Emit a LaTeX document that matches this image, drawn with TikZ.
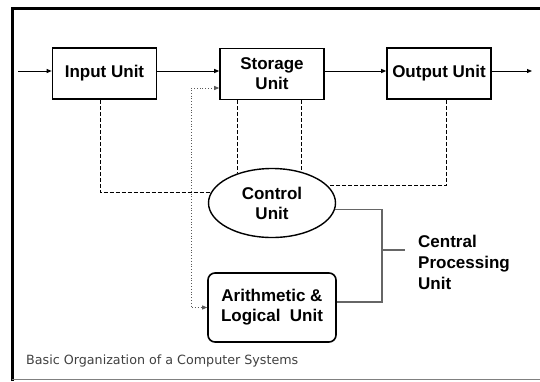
\documentclass[tikz,border=0pt]{standalone}
\usepackage{fontspec}
\setmainfont{Liberation Sans}
\newfontfamily\capfont{DejaVu Sans}
\usetikzlibrary{arrows.meta, shapes.geometric, positioning}

\tikzset{
  unitbox/.style={draw, line width=1.6pt, minimum width=104pt, minimum height=51pt,
    font=\bfseries\fontsize{17}{20}\selectfont, align=center, inner sep=2pt},
  flow/.style={line width=1pt, -{Triangle[length=5pt,width=4pt]}},
  dashline/.style={line width=0.8pt, dash pattern=on 4pt off 2pt},
  dotline/.style={line width=0.8pt, dotted, gray!70!black, {Triangle[length=5pt,width=4pt]}-{Triangle[length=5pt,width=4pt]}},
  cpuline/.style={line width=1.1pt, gray!80!black}
}

\begin{document}
\begin{tikzpicture}[x=1pt, y=-1pt]
\useasboundingbox (0,0) rectangle (540,381);
% Frame
\draw[line width=3pt] (12,381) -- (12,8) -- (540,8);
\draw[line width=1pt, gray] (12,379.5) -- (540,379.5);

% Units
\node[unitbox] (inp) at (104.5,73.5) {Input Unit};
\node[unitbox] (stor) at (272,74) {Storage\\Unit};
\node[unitbox] (outp) at (439,73.5) {Output Unit};
\node[unitbox, ellipse, line width=1.4pt, minimum width=127pt, minimum height=69pt] (ctrl) at (272,203) {Control\\Unit};
\node[unitbox, rounded corners=7pt, minimum width=128pt, minimum height=69pt] (alu) at (272,307.5) {Arithmetic \&\\Logical~~Unit};
\node[anchor=west, align=left, inner sep=0pt, font=\bfseries\fontsize{17}{21}\selectfont] (cpu) at (418,262) {Central\\Processing\\Unit};
\node[anchor=west, inner sep=0pt, text=black!75, font=\capfont\fontsize{12.7}{15}\selectfont] (cap) at (26,361) {Basic Organization of a Computer Systems};

% Data flow
\coordinate (src) at (18,71);
\coordinate (dst) at (532,71);
\draw[flow] (src) -- ([yshift=2.5pt]inp.west);
\draw[flow] ([yshift=2.5pt]inp.east) -- ([yshift=3pt]stor.west);
\draw[flow] ([yshift=3pt]stor.east) -- ([yshift=2.5pt]outp.west);
\draw[flow] ([yshift=2.5pt]outp.east) -- (dst);
\draw[dotline] ([yshift=-14pt]stor.west) -| ([xshift=-16pt]alu.west) -- (alu.west);

% Control signals
\draw[dashline] ([xshift=-4.5pt]inp.south) |- (ctrl.170);
\draw[dashline] (ctrl.139 |- stor.south) -- (ctrl.139);
\draw[dashline] (ctrl.47 |- stor.south) -- (ctrl.47);
\draw[dashline] ([xshift=7pt]outp.south) |- (ctrl.17);

% CPU bracket
\coordinate (cpubar) at (382,250);
\coordinate (tick) at (405,250);
\draw[cpuline] (ctrl.-6) -| (cpubar) |- ([yshift=5.5pt]alu.east);
\draw[cpuline] (cpubar) -- (tick);
\end{tikzpicture}
\end{document}
